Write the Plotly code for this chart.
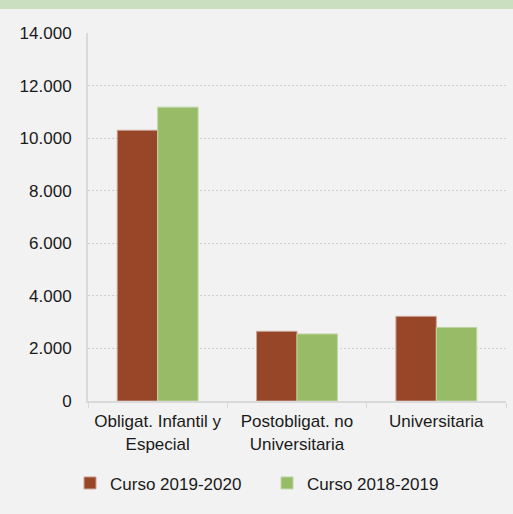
import plotly.graph_objects as go

categories = ["Obligat. Infantil y<br>Especial", "Postobligat. no<br>Universitaria", "Universitaria"]
series_names = ["Curso 2019-2020", "Curso 2018-2019"]
values_2019_2020 = [10300, 2650, 3220]
values_2018_2019 = [11180, 2550, 2800]
tick_vals = [0, 2000, 4000, 6000, 8000, 10000, 12000, 14000]
tick_text = ["0", "2.000", "4.000", "6.000", "8.000", "10.000", "12.000", "14.000"]

FONT = "Liberation Sans, Arial, sans-serif"

fig = go.Figure()
fig.add_trace(go.Bar(x=categories, y=values_2019_2020, name=series_names[0],
                     marker=dict(color="#984628", line=dict(color="#c9a395", width=1))))
fig.add_trace(go.Bar(x=categories, y=values_2018_2019, name=series_names[1],
                     marker=dict(color="#97bb66", line=dict(color="#bfd6a4", width=1))))

fig.update_layout(
    width=513, height=514,
    paper_bgcolor="#f2f2f2", plot_bgcolor="#f2f2f2",
    margin=dict(l=88, r=7, t=33, b=113),
    barmode="group", bargap=0.42, bargroupgap=0,
    font=dict(family=FONT, size=17, color="#1a1a1a"),
    showlegend=True,
    legend=dict(orientation="h", x=-0.043, xanchor="left", y=-0.175, yanchor="top",
                font=dict(size=17), itemwidth=30, entrywidth=152,
                bgcolor="rgba(0,0,0,0)"),
    shapes=[dict(type="rect", xref="paper", yref="paper", x0=-0.3, x1=1.1,
                 y0=1.0 + 24/368, y1=1.2, line=dict(width=0), fillcolor="#c9dfc0",
                 layer="above")],
)
fig.update_yaxes(range=[0, 14000], tickvals=tick_vals, ticktext=tick_text,
                 showgrid=True, gridcolor="#d0d0d0", griddash="2px,2px", gridwidth=1,
                 showline=True, linecolor="#d9d9d9", linewidth=2,
                 zeroline=False, ticks="", ticklabelstandoff=11, tickfont=dict(size=17))
fig.update_xaxes(showline=True, linecolor="#d9d9d9", linewidth=2,
                 ticks="outside", tickson="boundaries", ticklen=5, tickcolor="#d9d9d9",
                 ticklabelstandoff=4, tickfont=dict(size=17))

fig.write_html("out.html", config={"displayModeBar": False},
               post_script="document.body.style.margin='0';document.body.style.background='#f2f2f2';")
